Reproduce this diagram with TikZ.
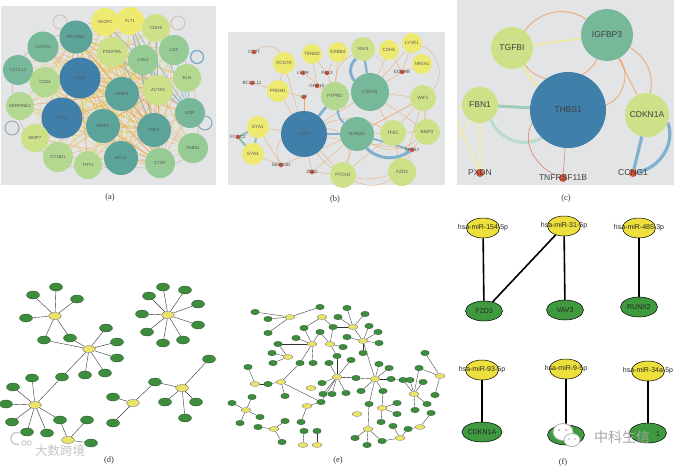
\documentclass[tikz,border=0pt]{standalone}
\usepackage{fontspec}
\setmainfont{Liberation Serif}
\setsansfont{Liberation Sans}
\newfontfamily\cjkfont{Noto Sans CJK SC}
\usetikzlibrary{shapes.geometric}
\pgfdeclarelayer{back}
\pgfdeclarelayer{bg}
\pgfsetlayers{back,bg,main}
\definecolor{cA}{HTML}{3F7FAA}
\definecolor{cB}{HTML}{5CA39A}
\definecolor{cC}{HTML}{78B89A}
\definecolor{cD}{HTML}{96CB96}
\definecolor{cE}{HTML}{B3D88F}
\definecolor{cF}{HTML}{CDE288}
\definecolor{cG}{HTML}{EEEA70}
\definecolor{panelgray}{HTML}{E3E4E6}
\definecolor{eor}{HTML}{EE9E5C}
\definecolor{eyl}{HTML}{E6D955}
\definecolor{ebl}{HTML}{7FB0CE}
\definecolor{epk}{HTML}{D9B8B0}
\definecolor{redn}{HTML}{DA5238}
\definecolor{fgreen}{HTML}{3F9A3F}
\definecolor{fyel}{HTML}{EEE03C}
\definecolor{dgreen}{HTML}{3E8C3E}
\definecolor{dyel}{HTML}{E9E36A}
\definecolor{cfbn}{HTML}{9DCDB6}
\tikzset{
  anode/.style={circle, draw=none, inner sep=0pt, font=\sffamily\fontsize{4.4}{5}\selectfont, text=black!65},
  bnode/.style={circle, draw=none, inner sep=0pt, font=\sffamily\fontsize{4.6}{5}\selectfont, text=black!65},
  cnode/.style={circle, draw=none, inner sep=0pt, font=\sffamily\fontsize{8.5}{9}\selectfont, text=black!75},
  rnode/.style={circle, fill=redn, draw=none, inner sep=0pt, minimum size=4.5pt},
  rnodec/.style={circle, fill=redn, draw=none, inner sep=0pt, minimum size=8pt},
  rlab/.style={font=\sffamily\fontsize{4.6}{5}\selectfont, text=black!70, inner sep=0pt},
  clab/.style={font=\sffamily\fontsize{8.5}{9}\selectfont, text=black!75, inner sep=0pt},
  aedge/.style={line width=.55pt, opacity=.55},
  bedge/.style={eor, line width=.35pt, opacity=.85},
  thickb/.style={ebl, line width=2.6pt},
  dgn/.style={ellipse, fill=dgreen, draw=dgreen!55!black, line width=.3pt, minimum width=13pt, minimum height=8pt, inner sep=0pt},
  dyn/.style={ellipse, fill=dyel, draw=black!60, line width=.3pt, minimum width=13pt, minimum height=7pt, inner sep=0pt},
  egn/.style={ellipse, fill=dgreen, draw=dgreen!55!black, line width=.25pt, minimum width=8.5pt, minimum height=5.5pt, inner sep=0pt},
  eyn/.style={ellipse, fill=dyel, draw=black!60, line width=.25pt, minimum width=10pt, minimum height=5pt, inner sep=0pt},
  dedge/.style={black!80, line width=.4pt},
  fyn/.style={ellipse, fill=fyel, draw=black, line width=.5pt, minimum width=33pt, minimum height=20pt, inner sep=0pt},
  fgn/.style={ellipse, fill=fgreen, draw=black, line width=.5pt, minimum width=37pt, minimum height=20pt, inner sep=0pt, font=\sffamily\fontsize{7}{8}\selectfont, text=black!85},
  ftext/.style={font=\sffamily\fontsize{7}{8}\selectfont, text=black!85, inner sep=0pt},
  fedge/.style={black, line width=1.6pt},
  plab/.style={font=\fontsize{8.5}{10}\selectfont, text=black!80},
  wmtext/.style={font=\cjkfont\fontsize{14}{14}\selectfont, text=gray!70},
  wmtextb/.style={font=\cjkfont\fontsize{12.5}{13}\selectfont, text=gray!45}
}
\begin{document}
\begin{tikzpicture}[x=1pt, y=-1pt]
\useasboundingbox (0,0) rectangle (674,466);
\begin{pgfonlayer}{back}
\fill[white] (0,0) rectangle (674,466);
\fill[panelgray] (1,6) rectangle (216,185);
\fill[panelgray] (228,32) rectangle (445,185);
\fill[panelgray] (457,0) rectangle (674,185);
\end{pgfonlayer}

% ================= panel (a) =================
\foreach \nm/\x/\y/\dia/\col in {VEGFC/105/22/28pt/cG, FLT1/130/21/28pt/cG, CDH5/156/28/28pt/cF, PECAM1/76/37/33pt/cB, CXCR4/43/47/31pt/cC, PDGFRA/112/52/30pt/cF, CAV1/143/60/30pt/cD, LOX/174/50/30pt/cD, CXCL12/18/70/30pt/cC, CD44/80/78/41pt/cA, CD34/45/82/30pt/cE, ELN/187/78/28pt/cE, MMP9/122/94/34pt/cB, ACTA2/158/90/30pt/cF, SERPINE1/20/106/28pt/cE, TP53/62/118/41pt/cA, KDR/190/113/30pt/cC, MMP2/103/126/34pt/cB, FGF2/154/130/34pt/cB, MMP7/35/138/28pt/cF, THBS1/193/148/30pt/cD, CCND1/58/157/30pt/cE, THY1/88/165/28pt/cE, BCL2/121/158/34pt/cB, CTGF/160/163/30pt/cD}
  \node[anode, fill=\col, minimum size=\dia] (a\nm) at (\x,\y) {\nm};

\begin{pgfonlayer}{bg}
\foreach \h/\col in {CD44/eor, TP53/eyl, MMP9/eor, MMP2/eyl, FGF2/eor, BCL2/eyl, PECAM1/eor, CAV1/eyl, ACTA2/eor, PDGFRA/eyl, CD34/eyl, CTGF/eor}
  \foreach \t in {VEGFC, FLT1, CDH5, PECAM1, CXCR4, PDGFRA, CAV1, LOX, CXCL12, CD44, CD34, ELN, MMP9, ACTA2, SERPINE1, TP53, KDR, MMP2, FGF2, MMP7, THBS1, CCND1, THY1, BCL2, CTGF}
    \draw[aedge, \col] (a\h.center) -- (a\t.center);
\foreach \p/\q in {VEGFC/FLT1, FLT1/CDH5, CDH5/LOX, LOX/ELN, ELN/KDR, KDR/THBS1, THBS1/CTGF, CTGF/BCL2, BCL2/THY1, THY1/CCND1, CCND1/MMP7, MMP7/SERPINE1, SERPINE1/CXCL12, CXCL12/CXCR4, CXCR4/PECAM1, PECAM1/VEGFC}
  \draw[epk, line width=.6pt] (a\p.center) to[bend left=40] (a\q.center);
\foreach \p/\q in {VEGFC/KDR, FLT1/KDR, CDH5/KDR, CAV1/KDR, LOX/KDR, ELN/KDR, FLT1/ACTA2, CDH5/CAV1, PDGFRA/KDR, VEGFC/FGF2, FLT1/FGF2, CDH5/ACTA2}
  \draw[ebl, line width=.8pt, opacity=.75] (a\p.center) -- (a\q.center);
\draw[ebl, line width=1.4pt] (197,57) circle (6.5);
\draw[ebl!70!gray, line width=.9pt] (205,123) circle (7);
\draw[epk, line width=.8pt] (178,23) circle (7);
\draw[ebl!60!gray, line width=.8pt] (12,128) circle (7);
\draw[epk, line width=.7pt] (60,22) circle (7);
\end{pgfonlayer}
\node[plab] (labA) at (110,197) {(a)};

% ================= panel (b) =================
\foreach \nm/\x/\y/\dia/\col in {KCN7A/284/63/22pt/cG, TENM3/312/54/20pt/cG, ERBB4/338/52/20pt/cG, VAV3/363/49/24pt/cF, CDH5/389/50/20pt/cG, LYVE1/412/43/20pt/cG, NR4A1/422/64/20pt/cG, PRDM1/278/91/22pt/cG, PTPRD/335/96/28pt/cE, CSF1R/370/92/38pt/cC, WIF1/423/98/26pt/cF, EYA1/258/127/22pt/cG, EYA4/253/154/22pt/cG, LEF1/304/134/46pt/cA, RUNX2/357/134/34pt/cC, TFEC/393/133/26pt/cF, BMP3/427/132/26pt/cF, PTCH1/343/175/26pt/cF, FZD3/402/172/28pt/cF}
  \node[bnode, fill=\col, minimum size=\dia] (b\nm) at (\x,\y) {\nm};
\foreach \nm/\x/\y in {CD27/254/52, EDNRB/402/72, LEPR/303/73, PAX3/327/73, GRB10/317/86, LIF/304/97, BCL2L11/252/83, FOXC2/238/137, SATB2/412/150, SEMA3D/281/165, ZEB2/312/172}
  {\node[rnode] (b\nm) at (\x,\y) {};
   \node[rlab] (b\nm-t) at (b\nm) {\nm};}

\begin{pgfonlayer}{bg}
\foreach \p/\q in {LEF1/PRDM1, LEF1/EYA1, LEF1/ZEB2, LEF1/PTCH1, LEF1/LIF, LEF1/KCN7A, RUNX2/PTCH1, RUNX2/TFEC, RUNX2/ZEB2, RUNX2/SEMA3D, CSF1R/WIF1, CSF1R/TFEC, CSF1R/EDNRB, CSF1R/BMP3, CSF1R/CDH5, WIF1/TFEC, WIF1/BMP3, WIF1/FZD3, WIF1/RUNX2, LYVE1/EDNRB, NR4A1/EDNRB, CDH5/EDNRB, ERBB4/PTPRD, ERBB4/PAX3, TENM3/PAX3, TENM3/GRB10, LEPR/PTPRD, GRB10/PTPRD, PAX3/PTPRD, PRDM1/BCL2L11, PRDM1/LIF, EYA1/SEMA3D, EYA4/SEMA3D, TFEC/FZD3, SATB2/BMP3, SATB2/FZD3, PTCH1/ZEB2, LEF1/SATB2, PTCH1/TFEC, KCN7A/PRDM1, CSF1R/LYVE1, RUNX2/WIF1, PTPRD/CSF1R, LEF1/CSF1R}
  \draw[bedge] (b\p) -- (b\q);
\draw[bedge] (bCD27) to[bend left=50] (bKCN7A);
\draw[bedge] (bLEF1) to[bend right=40] (bSEMA3D);
\draw[bedge] (bLEF1) to[bend right=35] (bFZD3);
\draw[bedge] (bLEF1) to[bend left=25] (bTFEC);
\draw[bedge] (bRUNX2) to[bend right=35] (bBMP3);
\draw[bedge] (bPTCH1) to[bend right=30] (bFZD3);
\draw[bedge] (bVAV3) to[bend right=30] (bPTPRD);
\draw[bedge] (bWIF1) to[bend right=60] (bLYVE1);
\draw[bedge] (bLEF1) to[bend left=60] (bPTCH1);
\draw[bedge] (bTFEC) to[bend right=50] (bWIF1);
\draw[gray!40, line width=.5pt] (bVAV3) to[bend left=50] (bCSF1R);
\draw[thickb] (bLEF1) -- (bPTPRD);
\draw[thickb] (bLEF1) -- (bRUNX2);
\draw[thickb, line width=2pt] (bPTPRD) to[bend right=20] (bRUNX2);
\draw[thickb, line width=2.2pt] (bVAV3) -- (bCSF1R);
\draw[thickb, line width=3pt] (bVAV3) to[bend right=45] (bCSF1R);
\draw[thickb, line width=1.8pt] (bRUNX2) -- (bSATB2);
\draw[thickb, line width=3pt] (bRUNX2) to[bend right=40] (bSATB2);
\draw[cfbn!80!cB, line width=2.2pt] (bEYA1) -- (bFOXC2);
\draw[cfbn!80!cB, line width=2.2pt] (bFOXC2) -- (bEYA4);
\draw[cfbn!80!cB, line width=2.2pt] (bEYA1) -- (bEYA4);
\end{pgfonlayer}
\node[plab] (labB) at (335,199) {(b)};

% ================= panel (c) =================
\foreach \nm/\x/\y/\dia/\col in {TGFBI/512/48/42pt/cF, IGFBP3/607/35/52pt/cC, FBN1/480/105/36pt/cF, THBS1/568/110/76pt/cA, CDKN1A/647/115/44pt/cF}
  \node[cnode, fill=\col, minimum size=\dia] (c\nm) at (\x,\y) {\nm};
\foreach \nm/\x/\y in {PXDN/480/173, TNFRSF11B/563/178, CCNG1/633/173}
  {\node[rnodec] (c\nm) at (\x,\y) {};
   \node[clab] (c\nm-t) at (c\nm) {\nm};}
\coordinate (cL1) at (457,108);
\coordinate (cL2) at (457,120);
\coordinate (cL3) at (457,140);
\begin{pgfonlayer}{bg}
\draw[eor, line width=.9pt, opacity=.8] (cTGFBI) to[bend left=45] (cIGFBP3);
\draw[eyl!60!white, line width=1.6pt] (cTGFBI) -- (cIGFBP3);
\draw[eyl!55!white, line width=2pt] (cTGFBI) to[bend right=10] (cTHBS1);
\draw[eor, line width=.9pt, opacity=.8] (cTGFBI) to[bend right=60] (cIGFBP3);
\draw[eor, line width=.9pt, opacity=.8] (cTHBS1) to[bend right=55] (cIGFBP3);
\draw[eor, line width=.9pt, opacity=.8] (cIGFBP3) to[bend left=35] (cCDKN1A);
\draw[eor, line width=.9pt, opacity=.8] (cIGFBP3) -- (cCDKN1A);
\draw[cfbn, line width=3pt] (cFBN1) -- (cTHBS1);
\draw[cfbn!70!white, line width=3pt] (cFBN1) to[bend right=50] (cTHBS1);
\draw[eyl!50!white, line width=1.4pt] (cFBN1) -- (cPXDN);
\draw[eyl!50!white, line width=1.4pt] (cFBN1) -- (cL1);
\draw[eyl!50!white, line width=1.4pt] (cFBN1) -- (cL3);
\draw[eyl!50!white, line width=1.4pt] (cPXDN) -- (cL2);
\draw[redn!80, line width=.5pt] (cTHBS1) -- (cTNFRSF11B);
\draw[redn!80, line width=.5pt] (cTHBS1.200) to[out=240, in=160] (cTNFRSF11B);
\draw[ebl, line width=3.2pt] (cCDKN1A) -- (cCCNG1);
\draw[ebl, line width=3.2pt] (cCDKN1A.-20) to[out=-70, in=10] (cCCNG1);
\end{pgfonlayer}
\node[plab] (labC) at (566,198) {(c)};

% ================= panel (d) =================
\foreach \nm/\x/\y in {1/55/316, 2/89/349, 3/35/405, 4/68/440, 5/168/315, 6/133/403, 7/182/388}
  \node[dyn] (dy\nm) at (\x,\y) {};
\foreach \nm/\x/\y in {1/33/295, 2/56/287, 3/77/299, 4/26/318, 5/44/340, 6/70/338, 7/106/328, 8/117/342, 9/117/358, 10/105/373, 11/85/375, 12/62/377, 13/32/378, 14/13/387, 15/6/404, 16/12/422, 17/27/432, 18/47/433, 19/60/420, 20/87/420, 21/91/443, 22/163/287, 23/185/290, 24/198/304, 25/198/325, 26/183/340, 27/163/343, 28/147/332, 29/142/314, 30/149/296, 31/155/382, 32/113/397, 33/113/423, 34/209/359, 35/165/402, 36/196/402, 37/185/418}
  \node[dgn] (dg\nm) at (\x,\y) {};
\begin{pgfonlayer}{bg}
\foreach \p/\q in {dy1/dg1, dy1/dg2, dy1/dg3, dy1/dg4, dy1/dg5, dy1/dg6, dy2/dg5, dy2/dg6, dy2/dg7, dy2/dg8, dy2/dg9, dy2/dg10, dy2/dg11, dy2/dg12, dy3/dg12, dy3/dg13, dy3/dg14, dy3/dg15, dy3/dg16, dy3/dg17, dy3/dg18, dy3/dg19, dy4/dg19, dy4/dg20, dy4/dg21, dy5/dg22, dy5/dg23, dy5/dg24, dy5/dg25, dy5/dg26, dy5/dg27, dy5/dg28, dy5/dg29, dy5/dg30, dy6/dg31, dy6/dg32, dy6/dg33, dy7/dg31, dy7/dg34, dy7/dg35, dy7/dg36, dy7/dg37}
  \draw[dedge] (\p) -- (\q);
\end{pgfonlayer}
\node[plab] (labD) at (109,460) {(d)};
\node[wmtextb] (wmA) at (60,451) {大数跨境};
\draw[gray!45, line width=1.3pt] (19,444) arc[start angle=70, end angle=290, radius=6];
\draw[gray!45, line width=.8pt] (24,443) circle (2.2);
\draw[gray!45, line width=.8pt] (29,443) circle (2.2);

% ================= panel (e) =================
\foreach \nm/\x/\y in {1/290/317, 2/322/317, 3/353/327, 4/312/344, 5/330/344, 6/363/341, 7/288/357, 8/337/377, 9/375/379, 10/255/384, 11/281/382, 12/311/388, 13/307/406, 14/246/410, 15/274/429, 16/357/414, 17/382/408, 18/368/429, 19/400/438, 20/420/427, 21/414/394, 22/440/376, 23/303/445, 24/317/445}
  \node[eyn] (ey\nm) at (\x,\y) {};
\foreach \nm/\x/\y in {1/255/312, 2/268/319, 3/268/333, 4/320/307, 5/347/308, 6/365/314, 7/338/317, 8/333/327, 9/369/326, 10/378/332, 11/379/343, 12/363/353, 13/347/337, 14/343/347, 15/337/356, 16/320/332, 17/304/328, 18/296/338, 19/278/344, 20/272/353, 21/273/363, 22/300/363, 23/313/363, 24/329/363, 25/351/360, 26/248/367, 27/268/384, 28/285/396, 29/322/383, 30/323/394, 31/332/394, 32/346/393, 33/356/378, 34/361/391, 35/379/364, 36/389/368, 37/391/379, 38/383/391, 39/403/380, 40/321/402, 41/301/422, 42/232/403, 43/252/397, 44/260/417, 45/240/423, 46/258/427, 47/285/421, 48/282/442, 49/304/431, 50/317/431, 51/369/404, 52/397/403, 53/397/414, 54/381/422, 55/393/426, 57/355/438, 58/367/445, 59/382/441, 60/408/429, 61/431/413, 62/425/353, 63/419/368, 64/423/382, 65/435/395, 66/427/404, 67/415/410, 69/410/380}
  \node[egn] (eg\nm) at (\x,\y) {};
\begin{pgfonlayer}{bg}
\foreach \p/\q in {ey1/eg1, ey1/eg2, ey1/eg3, ey1/eg4, ey2/eg8, ey2/eg17, ey3/eg5, ey3/eg6, ey3/eg7, ey3/eg8, ey3/ey6, ey6/eg9, ey6/eg10, ey6/eg11, ey6/eg12, ey6/eg13, ey6/ey9, ey4/eg16, ey4/eg17, ey4/eg18, ey4/eg19, ey4/eg23, ey4/eg22, ey5/eg8, ey5/eg14, ey5/eg15, ey5/eg16, ey7/eg19, ey7/eg20, ey7/eg21, ey8/eg15, ey8/eg24, ey8/eg25, ey8/eg29, ey8/eg30, ey8/eg31, ey8/eg32, ey8/eg33, ey8/ey9, ey8/eg40, ey9/eg34, ey9/eg35, ey9/eg36, ey9/eg37, ey9/eg38, ey9/eg39, ey9/eg51, eg51/ey18, ey10/eg26, ey10/eg27, ey11/eg27, ey11/eg28, ey11/eg22, ey11/eg40, ey13/eg40, ey13/eg41, ey14/eg42, ey14/eg43, ey14/eg44, ey14/eg45, ey15/eg46, ey15/eg47, ey15/eg48, ey17/eg52, ey17/eg53, ey17/eg54, ey17/eg38, ey18/eg57, ey18/eg58, ey18/eg59, ey19/eg59, ey19/eg55, ey19/eg60, ey20/eg60, ey20/eg61, ey21/eg63, ey21/eg64, ey21/eg66, ey21/eg67, ey21/eg69, ey21/eg39, ey22/eg62, ey22/eg65, ey22/eg63, ey23/eg49, ey24/eg50}
  \draw[dedge, line width=.35pt] (\p) -- (\q);
\end{pgfonlayer}
\node[plab] (labE) at (338,460) {(e)};

% ================= panel (f) =================
\node[fyn] (f154) at (483,228) {};
\node[ftext] (f154t) at (f154) {hsa-miR-154-5p};
\node[fyn] (f31) at (564,226) {};
\node[ftext] (f31t) at (f31) {hsa-miR-31-5p};
\node[fyn] (f485) at (639,228) {};
\node[ftext] (f485t) at (f485) {hsa-miR-485-3p};
\node[fgn] (fFZD3) at (484,311) {FZD3};
\node[fgn] (fVAV3) at (565,310) {VAV3};
\node[fgn] (fRUNX2) at (639,307) {RUNX2};
\node[fyn] (f93) at (482,370) {};
\node[ftext] (f93t) at (f93) {hsa-miR-93-5p};
\node[fyn] (f9) at (566,369) {};
\node[ftext] (f9t) at (f9) {hsa-miR-9-5p};
\node[fyn] (f34a) at (648,371) {};
\node[ftext] (f34at) at (f34a) {hsa-miR-34a-5p};
\node[fgn] (fCDKN1A) at (482,432) {CDKN1A};
\node[fgn] (fB2) at (566,435) {};
\node[fgn] (fB3) at (648,433) {};
\node[ftext] (fB3t) at (658,434) {1};
\draw[fedge] (f154) -- (fFZD3);
\draw[fedge] (f31) -- (fFZD3);
\draw[fedge] (f31) -- (fVAV3);
\draw[fedge] (f485) -- (fRUNX2);
\draw[fedge] (f93) -- (fCDKN1A);
\draw[fedge] (f9) -- (fB2);
\draw[fedge] (f34a) -- (fB3);
\node[plab] (labF) at (563,462) {(f)};
% watermark
\draw[gray!60, fill=white, line width=.8pt] (563,432) ellipse (10 and 8.5);
\draw[gray!60, fill=white, line width=.8pt] (572,440) ellipse (8 and 6.5);
\fill[gray!60] (559,430) circle (1.1) (566,430) circle (1.1) (569,439) circle (.9) (575,439) circle (.9);
\node[wmtext] (wmB) at (622,437) {中科生信};
\end{tikzpicture}
\end{document}
